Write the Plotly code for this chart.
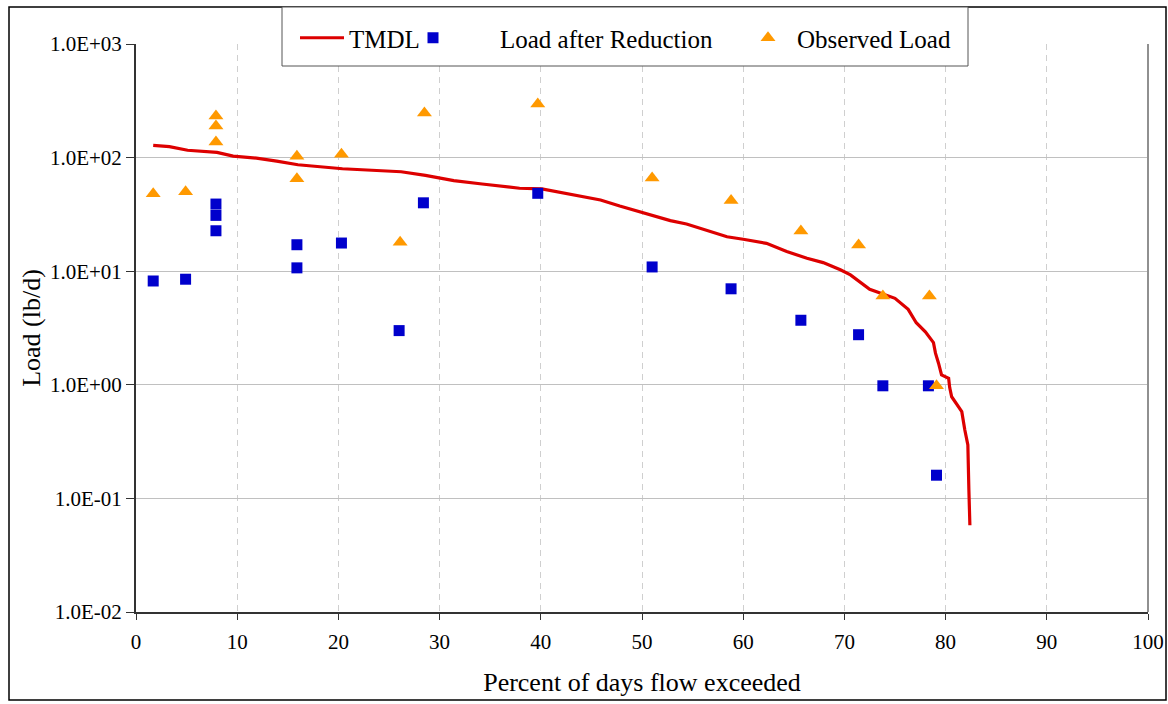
import plotly.graph_objects as go

# TMDL curve (percent of days flow exceeded, load lb/d)
tmdl_x = [1.7, 3.3, 5.1, 8.0, 9.6, 11.9, 13.9, 16.0, 20.4, 26.2, 28.6, 31.4, 34.2,
          37.9, 40.1, 42.6, 45.9, 47.8, 50.3, 52.8, 54.4, 56.7, 58.4, 60.0, 62.3,
          64.3, 66.3, 67.9, 69.6, 70.6, 72.5, 75.0, 76.3, 77.1, 78.0, 78.8, 79.0, 79.3,
          79.6, 80.3, 80.4, 80.6, 81.6, 81.9, 82.2, 82.3, 82.4]
tmdl_y = [128, 125, 116, 111, 103, 99, 93, 86.5, 79.8, 75.1, 69.8, 62.7, 58.6,
          53.7, 53.0, 47.9, 42.4, 37.5, 32.4, 27.9, 26.0, 22.3, 20.1, 19.1, 17.6,
          14.9, 13.0, 11.9, 10.3, 9.27, 6.94, 5.77, 4.62, 3.52, 2.93, 2.35, 1.9, 1.55,
          1.22, 1.14, 0.95, 0.785, 0.58, 0.40, 0.295, 0.119, 0.058]

# Load after reduction
red_x = [1.7, 4.9, 7.9, 7.9, 7.9, 15.9, 15.9, 20.3, 26.0, 28.4, 39.7, 51.0, 58.8,
         65.7, 71.4, 73.8, 78.3, 79.1]
red_y = [8.2, 8.5, 39, 31, 22.7, 17.1, 10.7, 17.7, 3.0, 40, 48.5, 10.9, 7.0,
         3.7, 2.76, 0.98, 0.98, 0.16]

# Observed load
obs_x = [1.7, 4.9, 7.9, 7.9, 7.9, 15.9, 15.9, 20.3, 26.1, 28.5, 39.7, 51.0, 58.8,
         65.7, 71.4, 73.8, 78.4, 79.1]
obs_y = [48, 50, 232, 190, 137, 103, 65, 107, 18, 247, 297, 66, 42, 22.6, 17,
         6.05, 6.05, 0.98]

y_tickvals = [0.01, 0.1, 1, 10, 100, 1000]
y_ticktext = ["1.0E-02", "1.0E-01", "1.0E+00", "1.0E+01", "1.0E+02", "1.0E+03"]
x_tickvals = [0, 10, 20, 30, 40, 50, 60, 70, 80, 90, 100]

FONT = "Liberation Serif, Times New Roman, serif"

fig = go.Figure()
fig.add_trace(go.Scatter(x=tmdl_x, y=tmdl_y, mode="lines", name="TMDL",
                         line=dict(color="#DD0000", width=3.2), legend="legend"))
fig.add_trace(go.Scatter(x=red_x, y=red_y, mode="markers", name="Load after Reduction",
                         marker=dict(symbol="square", size=11, color="#0000CC"),
                         legend="legend2"))
fig.add_trace(go.Scatter(x=obs_x, y=obs_y, mode="markers", name="Observed Load",
                         marker=dict(symbol="triangle-up", size=13, color="#FF9900"),
                         legend="legend3"))

L, R, T, B = 136, 20, 44, 92
W, H = 1168, 704
pw, ph = W - L - R, H - T - B

def px(x):
    return (x - L) / pw

def py(y):
    return (H - B - y) / ph

shapes = [
    # outer chart border
    dict(type="rect", xref="paper", yref="paper", x0=px(9), x1=px(1166), y0=py(700), y1=py(7),
         line=dict(color="#000000", width=1.5), layer="below"),
    # plot area right border
    dict(type="line", xref="paper", yref="paper", x0=1, x1=1, y0=0, y1=1,
         line=dict(color="#909090", width=2)),
    # legend box
    dict(type="rect", xref="paper", yref="paper", x0=px(282), x1=px(968), y0=py(66), y1=py(7),
         line=dict(color="#555555", width=1), fillcolor="white", layer="above"),
]

leg_common = dict(orientation="h", xanchor="left", yanchor="middle", bgcolor="rgba(0,0,0,0)",
                  borderwidth=0, font=dict(family=FONT, size=25, color="black"))

fig.update_layout(
    width=W, height=H,
    margin=dict(l=L, r=R, t=T, b=B, autoexpand=False),
    paper_bgcolor="white", plot_bgcolor="white",
    font=dict(family=FONT, size=21, color="black"),
    showlegend=True,
    legend=dict(x=px(295), y=py(38), itemwidth=44, **leg_common),
    legend2=dict(x=px(366), y=py(38), itemwidth=124, **leg_common),
    legend3=dict(x=px(739), y=py(38), itemwidth=48, **leg_common),
    shapes=shapes,
    xaxis=dict(range=[0, 100], tickvals=x_tickvals, ticks="outside", ticklen=6,
               tickcolor="#333333", showline=True, linecolor="#333333", linewidth=2,
               showgrid=True, gridcolor="#CFCFCF", griddash="6px,5px", gridwidth=1,
               zeroline=False, tickfont=dict(size=21), ticklabelstandoff=4,
               title=dict(text="Percent of days flow exceeded", font=dict(size=26), standoff=20)),
    yaxis=dict(type="log", range=[-2, 3], tickvals=y_tickvals, ticktext=y_ticktext,
               ticks="outside", ticklen=8, tickcolor="#333333", showline=True,
               linecolor="#333333", linewidth=2, showgrid=True, gridcolor="#C0C0C0",
               gridwidth=1, zeroline=False, tickfont=dict(size=21),
               title=dict(text="Load (lb/d)", font=dict(size=26), standoff=2)),
)

fig.write_html("out.html")
